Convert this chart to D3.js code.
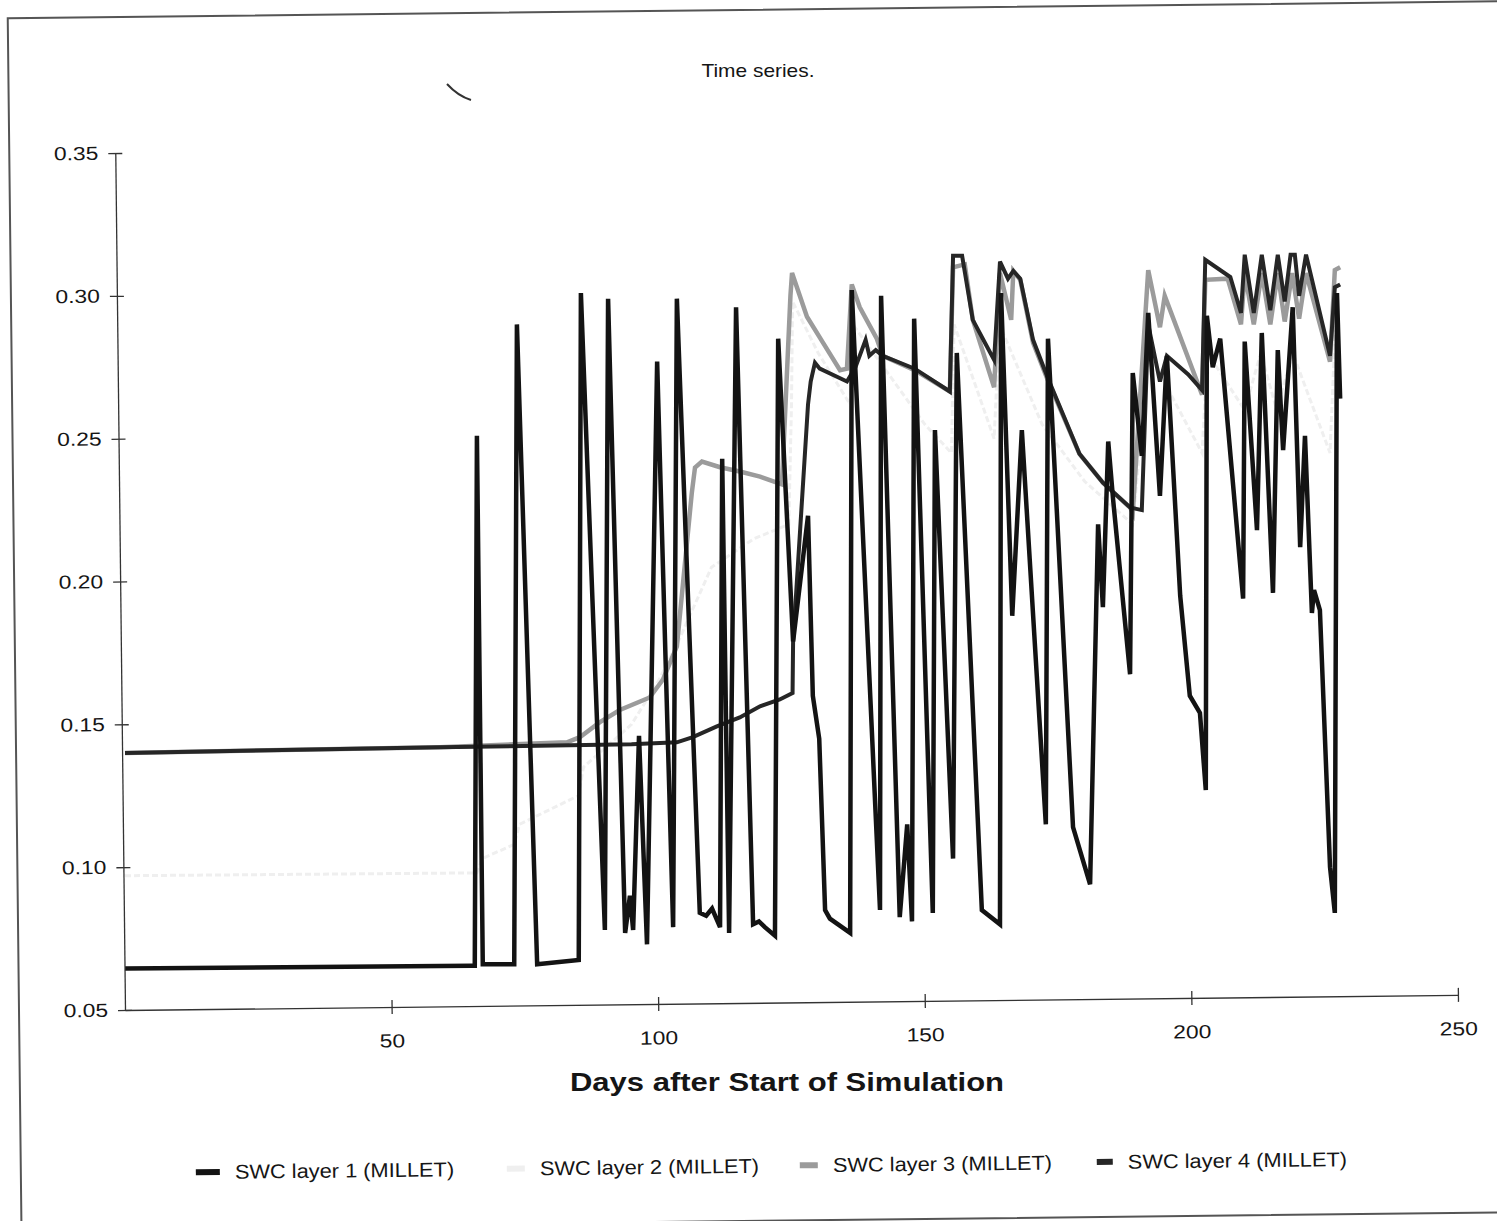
<!DOCTYPE html>
<html>
<head>
<meta charset="utf-8">
<script src="https://cdn.jsdelivr.net/npm/d3@7/dist/d3.min.js"></script>
<style>
  html, body { margin: 0; padding: 0; background: #fff; }
  svg { display: block; }
  text { font-family: "Liberation Sans", Arial, sans-serif; fill: #151515; }
</style>
</head>
<body>
<svg id="chart" width="1497" height="1221"></svg>
<script>
// soil water content time series, four layers, millet
'use strict';

var seriesNames = ['SWC layer 1 (MILLET)', 'SWC layer 2 (MILLET)', 'SWC layer 3 (MILLET)', 'SWC layer 4 (MILLET)'];
var xTicks = [50, 100, 150, 200, 250];
var yTicks = [0.05, 0.10, 0.15, 0.20, 0.25, 0.30, 0.35];

// [day, swc]
var layer1 = [
  [0,0.0645],[64.9,0.0655],[65.6,0.0655],[66.0,0.251],[67.1,0.066],[73.0,0.066],[73.5,0.290],
  [77.3,0.066],[85.1,0.0675],[85.5,0.301],[90.0,0.078],[90.6,0.299],[93.8,0.077],[94.7,0.090],
  [95.3,0.078],[96.4,0.146],[97.9,0.073],[99.8,0.277],[102.8,0.079],[103.5,0.299],[107.8,0.084],
  [109.0,0.083],[110.1,0.0855],[111.6,0.079],[112.0,0.243],[113.3,0.077],[114.6,0.296],[117.8,0.080],
  [118.9,0.081],[120.0,0.079],[121.9,0.076],[122.5,0.285],[125.3,0.179],[128.1,0.223],[129.0,0.160],
  [130.2,0.145],[131.3,0.085],[132.2,0.082],[136.0,0.077],[136.3,0.302],[141.6,0.085],[141.8,0.300],
  [145.3,0.0825],[146.7,0.115],[147.6,0.081],[148.0,0.292],[151.5,0.084],[151.9,0.253],[155.3,0.103],
  [156.0,0.280],[160.7,0.085],[164.1,0.080],[164.3,0.301],[166.4,0.188],[168.2,0.253],[172.7,0.115],
  [173.1,0.285],[177.8,0.114],[181.0,0.094],[182.5,0.220],[183.4,0.191],[184.4,0.249],[185.3,0.229],
  [188.5,0.1675],[189.0,0.273],[190.7,0.244],[191.9,0.294],[194.1,0.230],[195.4,0.279],[197.9,0.195],
  [199.7,0.160],[201.6,0.154],[202.7,0.127],[202.9,0.293],[204.0,0.275],[205.4,0.285],[209.7,0.194],
  [210.0,0.284],[212.3,0.218],[213.2,0.287],[215.3,0.196],[216.2,0.281],[217.2,0.246],[219.0,0.296],
  [220.4,0.212],[221.3,0.251],[222.6,0.189],[223.0,0.197],[224.1,0.190],[226.0,0.100],[226.9,0.084],
  [227.3,0.301],[227.9,0.264]
];

var layer2 = [
  [0,0.097],[66.0,0.098],[67.0,0.103],[73.0,0.108],[74.0,0.115],[85.0,0.125],[86.0,0.135],
  [95.0,0.150],[100.0,0.165],[104.0,0.180],[110.0,0.205],[118.0,0.215],[124.5,0.220],[125.0,0.262],
  [125.2,0.298],[130.0,0.280],[136.0,0.262],[136.5,0.290],[150.0,0.255],[155.0,0.245],[155.5,0.290],
  [163.0,0.250],[164.0,0.290],[172.0,0.255],[180.0,0.235],[189.0,0.220],[192.0,0.280],[202.0,0.245],
  [203.0,0.280],[210.0,0.260],[213.0,0.280],[216.0,0.260],[219.0,0.280],[222.0,0.265],[226.0,0.245],
  [227.0,0.290],[227.9,0.290]
];

var layer3 = [
  [0,0.140],[59.0,0.142],[82.9,0.1437],[85.3,0.1455],[89.0,0.1507],[92.8,0.155],[98.4,0.1594],
  [100.9,0.1657],[103.5,0.1773],[106.3,0.231],[106.9,0.2399],[108.2,0.242],[111.6,0.240],[115.3,0.2385],
  [119.1,0.2367],[123.2,0.234],[124.8,0.300],[125.1,0.308],[127.9,0.2927],[130.9,0.2836],[134.1,0.274],
  [135.4,0.2745],[136.3,0.304],[137.8,0.296],[141.0,0.285],[142.1,0.279],[148.1,0.274],[154.7,0.2665],
  [155.3,0.310],[157.5,0.311],[159.0,0.2916],[163.0,0.268],[164.1,0.308],[166.2,0.2916],[166.6,0.3087],
  [167.9,0.3056],[170.3,0.2836],[172.9,0.2713],[179.0,0.2447],[183.4,0.2346],[188.5,0.2259],[189.0,0.224],
  [191.9,0.309],[194.1,0.289],[195.0,0.300],[202.0,0.2654],[202.6,0.3056],[206.8,0.306],[209.3,0.290],
  [210.0,0.308],[211.7,0.290],[213.2,0.308],[214.8,0.290],[216.2,0.308],[217.5,0.291],[218.9,0.308],
  [220.2,0.292],[221.5,0.308],[226.0,0.277],[226.9,0.309],[227.9,0.310]
];

var layer4 = [
  [0,0.140],[59.0,0.142],[95.0,0.143],[103.5,0.1437],[106.5,0.1455],[111.0,0.1493],[115.3,0.1524],
  [119.1,0.1563],[122.8,0.1587],[125.2,0.161],[125.3,0.179],[128.1,0.262],[128.6,0.270],[129.4,0.2766],
  [130.3,0.2745],[135.4,0.270],[137.0,0.275],[138.9,0.2846],[139.6,0.279],[140.8,0.281],[142.1,0.279],
  [148.1,0.2745],[154.7,0.2665],[155.3,0.314],[157.0,0.314],[159.0,0.2916],[161.3,0.2835],[163.0,0.2776],
  [164.1,0.312],[165.6,0.306],[166.6,0.3087],[167.9,0.306],[170.3,0.2846],[172.9,0.272],[179.0,0.2447],
  [183.4,0.2346],[188.5,0.2259],[190.7,0.225],[191.9,0.290],[194.1,0.270],[195.4,0.279],[199.4,0.2725],
  [202.0,0.267],[202.6,0.3126],[207.3,0.3066],[209.3,0.294],[210.0,0.3144],[211.7,0.294],[213.2,0.3144],
  [214.8,0.295],[216.2,0.3144],[217.5,0.298],[218.6,0.3144],[219.4,0.3144],[220.2,0.300],[221.5,0.3144],
  [226.0,0.279],[226.9,0.303],[227.9,0.304]
];

var seriesData = [layer1, layer2, layer3, layer4];
var seriesColor = ['#131313', '#efefef', '#9b9b9b', '#262626'];
var seriesWidth = [4.5, 3, 4.5, 4];
var drawOrder = [1, 2, 3, 0];

var svg = d3.select('#chart');
var tilt = 'rotate(-0.65 125 1010)';   // the scan is slightly rotated

var x = d3.scaleLinear().domain([0, 250]).range([125, 1458]);
var y = d3.scaleLinear().domain([0.05, 0.35]).range([1010, 153]);

// widen text a little, the scanned type is broader than Arial
function stretch(sel, k){
  sel.each(function(){
    var w = this.getComputedTextLength();
    d3.select(this).attr('textLength', w * k).attr('lengthAdjust', 'spacingAndGlyphs');
  });
}

// page frame
svg.append('rect')
   .attr('transform', tilt)
   .attr('x', 19).attr('y', 17)
   .attr('width', 1520).attr('height', 1211)
   .style('fill', 'none').style('stroke', '#555').style('stroke-width', 2);

// lines
var line = d3.line().x(d => x(d[0])).y(d => y(d[1]));
svg.append('g').attr('class', 'series')
   .selectAll('path')
   .data(drawOrder)
   .enter()
   .append('path')
   .attr('d', i => line(seriesData[i]))
   .style('fill', 'none')
   .style('stroke', i => seriesColor[i])
   .style('stroke-width', i => seriesWidth[i])
   .style('stroke-dasharray', i => i === 1 ? '6,3' : null)
   .style('stroke-linejoin', 'miter');

// axes
var axes = svg.append('g').attr('transform', tilt);

var yAxis = d3.axisLeft(y).tickValues(yTicks).tickFormat(d3.format('.2f'))
              .tickSizeInner(7).tickSizeOuter(0).tickPadding(10);
var gy = axes.append('g').attr('transform', 'translate(125,0)').call(yAxis);
gy.selectAll('.tick line').attr('x1', 7);

var xAxis = d3.axisBottom(x).tickValues(xTicks)
              .tickSizeInner(7).tickSizeOuter(0).tickPadding(20);
var gx = axes.append('g').attr('transform', 'translate(0,1010)').call(xAxis);
gx.selectAll('.tick line').attr('y1', -7);

axes.selectAll('.domain').style('stroke', '#333').style('stroke-width', 1.3);
axes.selectAll('.tick line').style('stroke', '#333').style('stroke-width', 1.3);
axes.selectAll('.tick text')
    .style('font-family', '"Liberation Sans", Arial, sans-serif')
    .style('font-size', '19px').style('fill', '#151515')
    .call(stretch, 1.2);

// titles
svg.append('text')
   .attr('x', 758).attr('y', 77)
   .attr('text-anchor', 'middle')
   .style('font-size', '19px')
   .text('Time series.')
   .call(stretch, 1.1);

svg.append('text')
   .attr('x', 787).attr('y', 1091)
   .attr('text-anchor', 'middle')
   .style('font-size', '25px').style('font-weight', 'bold')
   .text('Days after Start of Simulation')
   .call(stretch, 1.24);

// stray pen stroke on the scan
svg.append('path')
   .attr('d', 'M447,84 Q458,96 471,100')
   .style('fill', 'none').style('stroke', '#333').style('stroke-width', 2);

// legend
var legendX = [194, 505, 798, 1095];
var legendLen = [24, 18, 18, 16];
var legend = svg.append('g').attr('transform', tilt)
   .selectAll('g')
   .data(seriesNames)
   .enter()
   .append('g')
   .attr('transform', (d, i) => 'translate(' + legendX[i] + ',1173)');

legend.append('line')
      .attr('x1', 0).attr('x2', (d, i) => legendLen[i])
      .style('stroke', (d, i) => seriesColor[i])
      .style('stroke-width', 6);

legend.append('text')
      .attr('x', (d, i) => legendLen[i] + 15)
      .attr('y', 7)
      .style('font-size', '20px')
      .text(d => d)
      .call(stretch, 1.09);
</script>
</body>
</html>
